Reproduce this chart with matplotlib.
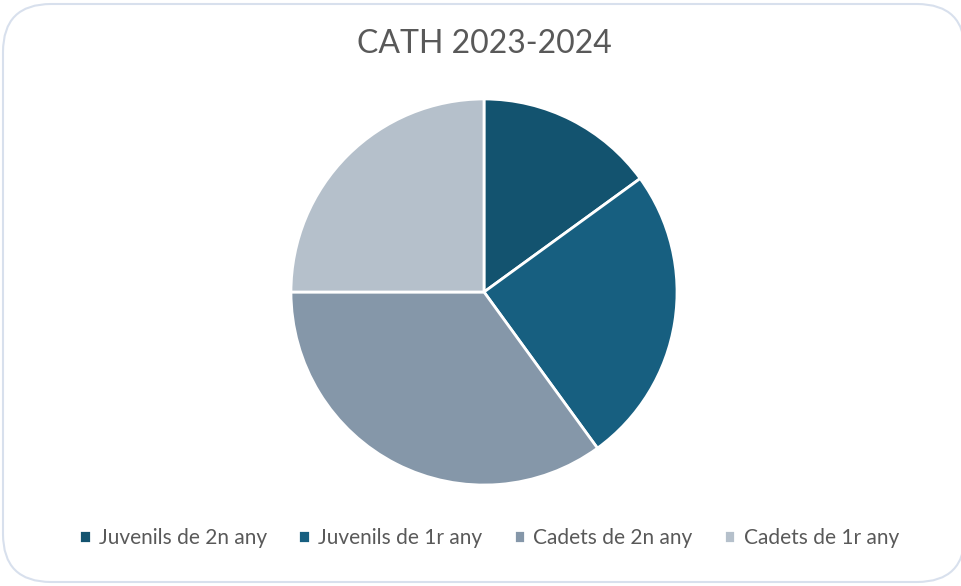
import matplotlib
matplotlib.use("Agg")
import matplotlib.pyplot as plt
from matplotlib.patches import FancyBboxPatch

plt.rcParams['font.family'] = ['Lato', 'DejaVu Sans']

# Dades del gràfic
categories = ["Juvenils de 2n any", "Juvenils de 1r any", "Cadets de 2n any", "Cadets de 1r any"]
valors = [3, 5, 7, 5]
colors = ["#13536f", "#175f80", "#8597a9", "#b5c0cb"]

W, H = 961, 586
fig = plt.figure(figsize=(W / 100, H / 100), dpi=100)

# marc arrodonit del gràfic
marc = FancyBboxPatch((3 / W, 4 / H), 962 / W, 578 / H,
                      boxstyle="round,pad=0,rounding_size=0.05",
                      transform=fig.transFigure, facecolor="white",
                      edgecolor="#d8e0ed", linewidth=1.5, mutation_aspect=W / H,
                      zorder=-5)
fig.patches.append(marc)

# pastís: centre (484, 292) px, radi 194 px
cx, cy, r = 484, 292, 194
ax = fig.add_axes([(cx - r) / W, (H - cy - r) / H, 2 * r / W, 2 * r / H])
ax.pie(valors, colors=colors, startangle=90, counterclock=False,
       wedgeprops=dict(edgecolor="white", linewidth=2))
ax.set_xlim(-1.005, 1.005)
ax.set_ylim(-1.005, 1.005)
ax.set_aspect("equal")
ax.axis("off")

fig.text(cx / W, 1 - 44 / H, "CATH 2023-2024", ha="center", va="center",
         fontsize=23, color="#595959")

fig.legend(categories, loc="center", bbox_to_anchor=(489 / W, 1 - 538 / H),
           ncol=4, frameon=False, fontsize=15, labelcolor="#595959",
           handlelength=0.55, handleheight=0.55, handletextpad=0.4,
           columnspacing=1.5)

fig.savefig("out.png", dpi=100)
